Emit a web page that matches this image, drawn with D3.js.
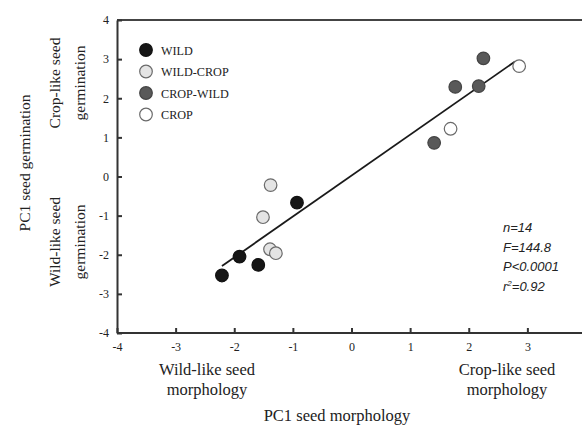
<!DOCTYPE html>
<html><head><meta charset="utf-8">
<script src="https://cdn.jsdelivr.net/npm/d3@7"></script>
<style>html,body{margin:0;padding:0;background:#fff;}svg{display:block;}</style>
</head><body>
<script>
const groups = ["WILD", "WILD-CROP", "CROP-WILD", "CROP"];
const groupFill = ["#161616", "#e4e4e4", "#595959", "#ffffff"];
const groupStroke = ["#111111", "#6a6a6a", "#444444", "#6a6a6a"];
const pointGroup = ["WILD","WILD","WILD","WILD","WILD-CROP","WILD-CROP","WILD-CROP","WILD-CROP","CROP-WILD","CROP-WILD","CROP-WILD","CROP-WILD","CROP","CROP"];
const pointX = [-0.93, -1.91, -1.59, -2.21, -1.38, -1.51, -1.39, -1.29, 2.25, 1.77, 2.17, 1.41, 2.86, 1.69];
const pointY = [-0.67, -2.05, -2.26, -2.53, -0.22, -1.04, -1.86, -1.96, 3.02, 2.29, 2.31, 0.86, 2.82, 1.22];
const fitX = [-2.21, 2.79];
const fitY = [-2.29, 2.94];
const xTicks = [-4, -3, -2, -1, 0, 1, 2, 3];
const yTicks = [-4, -3, -2, -1, 0, 1, 2, 3, 4];
const stats = ["n=14", "F=144.8", "P<0.0001", "r2=0.92"];

const W = 582, H = 425;
const svg = d3.select("body").append("svg").attr("width", W).attr("height", H);
const x = d3.scaleLinear().domain([-4, 4]).range([117, 586]);
const y = d3.scaleLinear().domain([-4, 4]).range([333, 20]);
const serif = "'Liberation Serif', 'DejaVu Serif', serif";

// top border
svg.append("line").attr("x1", x(-4)).attr("x2", x(4)).attr("y1", y(4)).attr("y2", y(4))
  .attr("stroke", "#444").attr("stroke-width", 2);

// axes
const fmt = d => String(d);
const xAxis = svg.append("g").attr("transform", `translate(0,${y(-4)})`)
  .call(d3.axisBottom(x).tickValues(xTicks).tickSizeInner(-5).tickSizeOuter(0).tickPadding(9).tickFormat(fmt));
const yAxis = svg.append("g").attr("transform", `translate(${x(-4)},0)`)
  .call(d3.axisLeft(y).tickValues(yTicks).tickSizeInner(-5).tickSizeOuter(0).tickPadding(8).tickFormat(fmt));
[xAxis, yAxis].forEach(a => {
  a.select(".domain").attr("stroke", "#333").attr("stroke-width", 2);
  a.selectAll(".tick line").attr("stroke", "#333").attr("stroke-width", 2);
  a.selectAll("text").attr("font-family", serif).attr("font-size", 12).attr("fill", "#222");
});
xAxis.select(".domain").attr("d", `M${x(-4)},0H${W}`);

// regression line
svg.append("line").attr("x1", x(fitX[0])).attr("y1", y(fitY[0])).attr("x2", x(fitX[1])).attr("y2", y(fitY[1]))
  .attr("stroke", "#1a1a1a").attr("stroke-width", 1.8);

// points
const color = d3.scaleOrdinal().domain(groups).range(groupFill);
const stroke = d3.scaleOrdinal().domain(groups).range(groupStroke);
svg.append("g").selectAll("circle").data(pointX.map((v, i) => ({x: v, y: pointY[i], g: pointGroup[i]})))
  .join("circle").attr("cx", d => x(d.x)).attr("cy", d => y(d.y)).attr("r", 6.3)
  .attr("fill", d => color(d.g)).attr("stroke", d => stroke(d.g)).attr("stroke-width", 1.2);

// legend
const leg = svg.append("g");
groups.forEach((g, i) => {
  const ly = 50 + i * 21.5;
  leg.append("circle").attr("cx", 146).attr("cy", ly).attr("r", 6.3)
    .attr("fill", color(g)).attr("stroke", stroke(g)).attr("stroke-width", 1.2);
  leg.append("text").attr("x", 161).attr("y", ly + 4.5).text(g)
    .attr("font-family", serif).attr("font-size", 12.2).attr("fill", "#222");
});

// stats
const st = svg.append("g").attr("font-family", "'Liberation Sans', Arial, sans-serif").attr("font-style", "italic")
  .attr("font-size", 13).attr("fill", "#222");
stats.forEach((s, i) => {
  const t = st.append("text").attr("x", 503).attr("y", 232 + i * 19.5);
  if (s.startsWith("r2")) {
    t.append("tspan").text("r");
    t.append("tspan").text("2").attr("font-size", 8).attr("dy", -5);
    t.append("tspan").text(s.slice(2)).attr("dy", 5);
  } else t.text(s);
});

// axis annotations
const txt = (tx, ty, s, size, rot) => {
  const t = svg.append("text").attr("text-anchor", "middle").attr("font-family", serif)
    .attr("font-size", size).attr("fill", "#222").text(s);
  if (rot) t.attr("transform", `translate(${tx},${ty}) rotate(-90)`);
  else t.attr("x", tx).attr("y", ty);
};
const fs = 16.5, fr = 15.5;
txt(207, 375, "Wild-like seed", fs);
txt(207, 395, "morphology", fs);
txt(507, 375, "Crop-like seed", fs);
txt(507, 395, "morphology", fs);
txt(337, 421, "PC1 seed morphology", fs);
txt(30, 163, "PC1 seed germination", fr, true);
txt(60, 83, "Crop-like seed", fr, true);
txt(85, 83, "germination", fr, true);
txt(60, 242, "Wild-like seed", fr, true);
txt(85, 242, "germination", fr, true);
</script>
</body></html>
